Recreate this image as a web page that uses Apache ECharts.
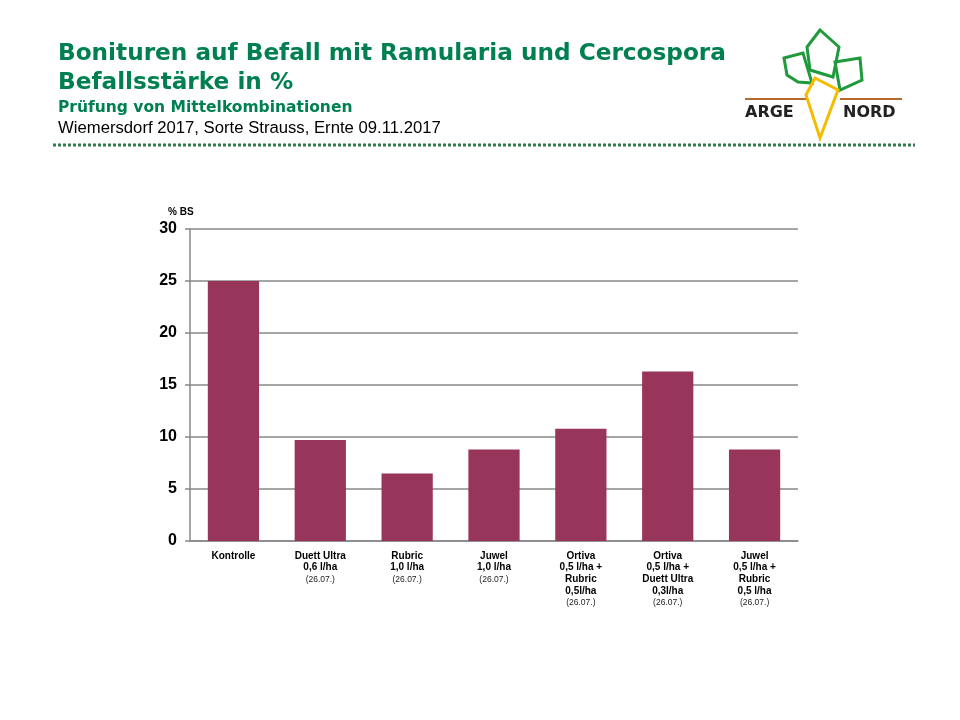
<!DOCTYPE html>
<html>
<head>
<meta charset="utf-8">
<title>Bonituren auf Befall mit Ramularia und Cercospora</title>
<script src="https://cdn.jsdelivr.net/npm/echarts@6/dist/echarts.min.js"></script>
<style>
    html, body { margin: 0; padding: 0; background: #fff; }
    #main { width: 960px; height: 720px; }
</style>
</head>
<body>
<div id="main"></div>
<script>
// Befallsstaerke in % je Variante
var categories = [
    'Kontrolle',
    'Duett Ultra\n0,6 l/ha',
    'Rubric\n1,0 l/ha',
    'Juwel\n1,0 l/ha',
    'Ortiva\n0,5 l/ha +\nRubric\n0,5l/ha',
    'Ortiva\n0,5 l/ha +\nDuett Ultra\n0,3l/ha',
    'Juwel\n0,5 l/ha +\nRubric\n0,5 l/ha'
];
var dates = ['', '(26.07.)', '(26.07.)', '(26.07.)', '(26.07.)', '(26.07.)', '(26.07.)'];
var values = [25.0, 9.7, 6.5, 8.8, 10.8, 16.3, 8.8];
var yTicks = [0, 5, 10, 15, 20, 25, 30];

var green = '#008050';
var font = 'Arial, "Liberation Sans", sans-serif';
var wide = '"DejaVu Sans", Verdana, sans-serif';

var chart = echarts.init(document.getElementById('main'));

var option = {
    backgroundColor: '#fff',
    animation: false,
    grid: { left: 190, right: 162, top: 229, bottom: 179 },
    xAxis: {
        type: 'category',
        data: categories,
        axisLine: { lineStyle: { color: '#888', width: 1.5 } },
        axisTick: { show: false },
        axisLabel: {
            interval: 0,
            margin: 9,
            fontFamily: font,
            formatter: function (v, i) {
                var s = v.split('\n').map(function (l) { return '{b|' + l + '}'; }).join('\n');
                if (dates[i]) s += '\n{s|' + dates[i] + '}';
                return s;
            },
            rich: {
                b: { fontSize: 10, fontWeight: 'bold', color: '#000', lineHeight: 11.7, fontFamily: font },
                s: { fontSize: 8.5, color: '#222', lineHeight: 11.7, fontFamily: font }
            }
        }
    },
    yAxis: {
        type: 'value',
        min: yTicks[0],
        max: yTicks[yTicks.length - 1],
        interval: 5,
        axisLine: { show: true, lineStyle: { color: '#888', width: 1.5 } },
        axisTick: { show: true, length: 5, lineStyle: { color: '#888', width: 1.5 } },
        axisLabel: { fontSize: 16, fontWeight: 'bold', color: '#000', margin: 13, fontFamily: font },
        splitLine: { lineStyle: { color: '#888', width: 1.5 } }
    },
    series: [{
        type: 'bar',
        data: values,
        barWidth: '59%',
        itemStyle: { color: '#98355A' }
    }],
    graphic: [
        { type: 'text', left: 58, top: 42, style: { text: 'Bonituren auf Befall mit Ramularia und Cercospora', fill: green, font: 'bold 23.2px ' + wide } },
        { type: 'text', left: 58, top: 71, style: { text: 'Befallsstärke in %', fill: green, font: 'bold 23.2px ' + wide } },
        { type: 'text', left: 58, top: 100, style: { text: 'Prüfung von Mittelkombinationen', fill: green, font: 'bold 15.5px ' + wide } },
        { type: 'text', left: 58, top: 120, style: { text: 'Wiemersdorf 2017, Sorte Strauss, Ernte 09.11.2017', fill: '#000', font: '16.7px ' + font } },
        { type: 'line', shape: { x1: 53, y1: 145, x2: 915, y2: 145 }, style: { stroke: '#2e7d4a', lineWidth: 3, lineDash: [3, 2] } },
        { type: 'text', left: 168, top: 207, style: { text: '% BS', fill: '#000', font: 'bold 10px ' + font } },
        // Logo ARGE NORD
        { type: 'line', shape: { x1: 745, y1: 99, x2: 806, y2: 99 }, style: { stroke: '#b5692a', lineWidth: 2 } },
        { type: 'line', shape: { x1: 840, y1: 99, x2: 902, y2: 99 }, style: { stroke: '#b5692a', lineWidth: 2 } },
        { type: 'polygon', shape: { points: [[784, 58], [803, 53], [812, 83], [798, 82], [787, 75]] }, style: { fill: 'none', stroke: '#1f9a3c', lineWidth: 3 } },
        { type: 'polygon', shape: { points: [[820, 30], [839, 47], [833, 77], [810, 70], [807, 47]] }, style: { fill: 'none', stroke: '#1f9a3c', lineWidth: 3 } },
        { type: 'polygon', shape: { points: [[835, 62], [860, 58], [862, 80], [840, 90]] }, style: { fill: 'none', stroke: '#1f9a3c', lineWidth: 3 } },
        { type: 'polygon', shape: { points: [[815, 78], [838, 90], [820, 138], [806, 95]] }, style: { fill: 'none', stroke: '#f2bd00', lineWidth: 3 } },
        { type: 'text', left: 745, top: 105, style: { text: 'ARGE', fill: '#222', font: 'bold 16px ' + wide } },
        { type: 'text', left: 843, top: 105, style: { text: 'NORD', fill: '#222', font: 'bold 16px ' + wide } }
    ]
};

chart.setOption(option);
</script>
</body>
</html>
